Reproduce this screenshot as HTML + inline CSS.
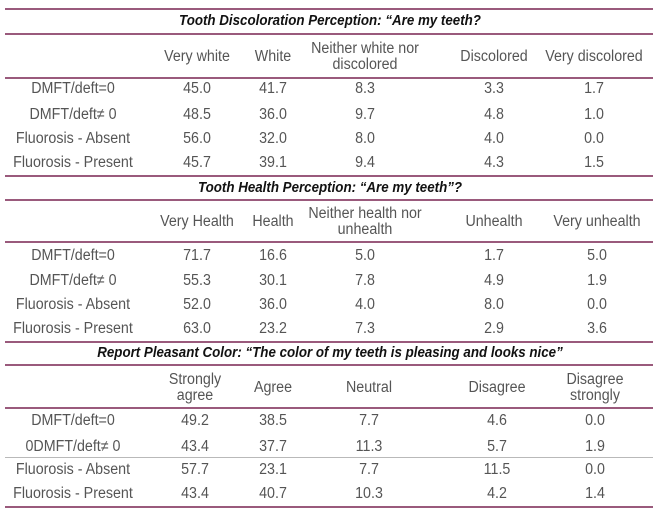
<!DOCTYPE html>
<html><head><meta charset="utf-8">
<style>
html,body{margin:0;padding:0;background:#fff;}
#t{position:relative;width:661px;height:525px;font-family:"Liberation Sans",sans-serif;color:#555;font-size:15.5px;}
.l{position:absolute;left:5px;width:648px;height:2px;background:#9a5a7c;}
.thin{height:1px;background:#b9b9b9;}
.c{position:absolute;transform:translate(-50%,-50%) scaleX(0.92);text-align:center;white-space:nowrap;line-height:16px;}
.ti{font-weight:bold;font-style:italic;color:#111;font-size:14.5px;}
</style></head><body>
<div id="t"></div>
<script>
const sections=[
 {title:"Tooth Discoloration Perception: “Are my teeth?",
  heads:["Very white","White","Neither white nor<br>discolored","Discolored","Very discolored"],
  rows:["DMFT/deft=0","DMFT/deft≠ 0","Fluorosis - Absent","Fluorosis - Present"],
  vals:[["45.0","41.7","8.3","3.3","1.7"],["48.5","36.0","9.7","4.8","1.0"],["56.0","32.0","8.0","4.0","0.0"],["45.7","39.1","9.4","4.3","1.5"]],
  cols:[73,197,273,365,494,594],lines:[9,34,78,176],titleY:21,headY:57,rowY:[89,115,139,163],thin:null},
 {title:"Tooth Health Perception: “Are my teeth”?",
  heads:["Very Health","Health","Neither health nor<br>unhealth","Unhealth","Very unhealth"],
  rows:["DMFT/deft=0","DMFT/deft≠ 0","Fluorosis - Absent","Fluorosis - Present"],
  vals:[["71.7","16.6","5.0","1.7","5.0"],["55.3","30.1","7.8","4.9","1.9"],["52.0","36.0","4.0","8.0","0.0"],["63.0","23.2","7.3","2.9","3.6"]],
  cols:[73,197,273,365,494,597],lines:[200,242,342],titleY:188,headY:222,rowY:[256,281,305,329],thin:null},
 {title:"Report Pleasant Color: “The color of my teeth is pleasing and looks nice”",
  heads:["Strongly<br>agree","Agree","Neutral","Disagree","Disagree<br>strongly"],
  rows:["DMFT/deft=0","0DMFT/deft≠ 0","Fluorosis - Absent","Fluorosis - Present"],
  vals:[["49.2","38.5","7.7","4.6","0.0"],["43.4","37.7","11.3","5.7","1.9"],["57.7","23.1","7.7","11.5","0.0"],["43.4","40.7","10.3","4.2","1.4"]],
  cols:[73,195,273,369,497,595],lines:[365,408,507],titleY:353,headY:388,rowY:[421,447,470,494],thin:457}
];
const t=document.getElementById('t');
function add(cls,html,x,y,name){
 const d=document.createElement('div');d.className=cls;d.innerHTML=html;
 d.style.left=x+'px';d.style.top=y+'px';
 
 
 t.appendChild(d);
}
sections.forEach((s,si)=>{
 s.lines.forEach(y=>{const d=document.createElement('div');d.className='l';d.style.top=(y-1)+'px';
  
  
  t.appendChild(d);});
 if(s.thin){const d=document.createElement('div');d.className='l thin';d.style.top=s.thin+'px';
  
  
  t.appendChild(d);}
 add('c ti',s.title,330,s.titleY,'section-title');
 s.heads.forEach((h,i)=>add('c',h,s.cols[i+1],s.headY,'column-header'));
 s.rows.forEach((r,ri)=>{
  add('c',r,s.cols[0],s.rowY[ri],'row-label');
  s.vals[ri].forEach((v,ci)=>add('c',v,s.cols[ci+1],s.rowY[ri],'cell-value'));
 });
});
</script>
</body></html>
